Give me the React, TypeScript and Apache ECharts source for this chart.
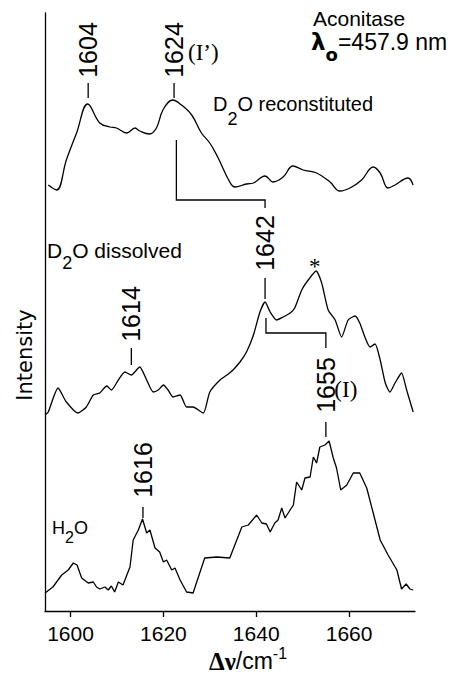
import React, { useEffect, useRef } from "react";
import * as echarts from "echarts";

// x-axis ticks (Raman shift, cm-1)
const xTicks = [1600, 1620, 1640, 1660];

// D2O reconstituted (top trace), intensity in arbitrary units incl. vertical offset
const reconWn = [1595.2, 1597.0, 1599.1, 1601.3, 1603.7, 1606.3, 1608.5, 1609.9, 1612.1, 1613.9, 1614.9, 1617.0, 1618.5, 1619.9, 1622.0, 1623.9, 1626.1, 1628.2, 1630.0, 1631.7, 1634.3, 1635.4, 1637.9, 1639.4, 1641.9, 1643.6, 1645.8, 1647.9, 1650.1, 1653.0, 1655.9, 1658.0, 1660.2, 1662.7, 1665.2, 1666.7, 1668.4, 1669.9, 1672.7, 1673.8];
const reconI = [426, 421, 451, 478, 507, 488, 484, 483, 478, 483, 480, 477, 483, 501, 511, 506, 496, 478, 468, 454, 429, 424, 427, 428, 435, 429, 434, 445, 441, 438, 429, 420, 423, 431, 444, 438, 423, 426, 433, 426];

// D2O dissolved (middle trace)
const dissWn = [1594.5, 1595.2, 1597.3, 1599.1, 1601.6, 1603.4, 1604.9, 1606.3, 1607.8, 1608.8, 1610.3, 1611.7, 1613.1, 1614.9, 1616.4, 1617.8, 1618.9, 1620.0, 1621.0, 1622.1, 1623.6, 1625.0, 1626.4, 1628.6, 1630.0, 1632.2, 1634.0, 1635.0, 1636.5, 1637.9, 1639.4, 1640.8, 1641.9, 1643.0, 1644.4, 1645.8, 1647.3, 1648.3, 1649.8, 1651.2, 1652.9, 1654.1, 1655.5, 1657.0, 1658.4, 1659.8, 1661.3, 1662.3, 1663.4, 1664.5, 1665.6, 1666.7, 1667.8, 1668.8, 1669.9, 1671.3, 1672.4, 1673.8];
const dissI = [196, 199, 223, 209, 198, 204, 216, 218, 225, 221, 231, 239, 236, 244, 231, 219, 221, 226, 221, 214, 216, 204, 204, 198, 219, 231, 237, 241, 249, 259, 276, 299, 309, 299, 291, 294, 298, 303, 321, 331, 340, 328, 301, 291, 274, 291, 295, 288, 274, 264, 267, 251, 228, 219, 228, 238, 221, 199];

// H2O (bottom trace)
const h2oWn = [1594.5, 1596.2, 1598.1, 1599.5, 1600.6, 1601.4, 1602.4, 1603.8, 1604.9, 1605.6, 1606.3, 1607.4, 1608.1, 1608.8, 1609.5, 1610.3, 1611.3, 1612.8, 1613.5, 1614.6, 1615.5, 1616.4, 1617.1, 1618.2, 1619.2, 1620.0, 1620.7, 1621.8, 1622.5, 1623.6, 1625.0, 1626.4, 1628.9, 1631.5, 1634.3, 1636.9, 1638.3, 1640.1, 1641.2, 1642.2, 1643.0, 1644.0, 1644.7, 1645.5, 1646.2, 1647.3, 1648.0, 1648.7, 1649.8, 1650.5, 1651.6, 1652.3, 1653.0, 1653.7, 1654.8, 1655.7, 1656.6, 1657.3, 1658.2, 1659.5, 1660.9, 1662.3, 1663.8, 1665.2, 1666.7, 1668.4, 1670.3, 1671.3, 1672.3, 1673.1, 1673.8];
const h2oI = [18, 24, 36, 41, 48, 46, 33, 28, 29, 24, 22, 24, 21, 25, 19, 29, 26, 44, 71, 81, 92, 78, 81, 63, 59, 49, 51, 41, 43, 31, 19, 18, 53, 54, 53, 84, 86, 96, 88, 87, 79, 88, 91, 103, 93, 101, 106, 129, 121, 133, 134, 154, 148, 164, 166, 170, 153, 143, 121, 126, 138, 138, 123, 98, 71, 56, 41, 22, 27, 22, 21];

// peak annotations
const peakLabels = ["1604", "1624", "1614", "1642", "1655", "1616"];
const peakX = [1603.8, 1622.3, 1613.1, 1641.9, 1655.0, 1615.6];
const peakLabelY = [561, 561, 297, 368, 226, 141];
const peakTickLow = [513, 513, 246, 312, 174, 93];
const peakTickHigh = [528, 528, 263, 333, 189, 104];

// correlation brackets 1624 -> 1642 and 1642 -> 1655
const bracketTop = [[1622.8, 471], [1622.8, 411], [1641.9, 411], [1641.9, 403]];
const bracketMid = [[1642.1, 293], [1642.1, 278], [1655.0, 278], [1655.0, 263]];

// band assignment marks
const markTexts = ["(I\u2019)", "(I)", "*"];
const markX = [1628.6, 1659.3, 1652.6];
const markY = [559, 222, 345];

const FONT = "Liberation Sans";

export default function App() {
  const ref = useRef<HTMLDivElement>(null);
  useEffect(() => {
    document.body.style.margin = "0";
    const chart = echarts.init(ref.current as HTMLDivElement, null, { renderer: "svg" });
    const pair = (w: number[], v: number[]) => w.map((x, i) => [x, v[i]]);
    const lineStyle = { color: "#000", width: 1.3 };
    const tickSegs = peakX.map((x, i) => ({ coords: [[x, peakTickLow[i]], [x, peakTickHigh[i]]] }));
    chart.setOption({
      animation: false,
      backgroundColor: "#fff",
      grid: { left: 45, right: 35, top: 13, bottom: 63, outerBoundsMode: "none" },
      xAxis: {
        type: "value",
        min: 1594.5,
        max: 1674.2,
        axisLine: { show: true, onZero: false, lineStyle: { color: "#000", width: 1.3 } },
        axisTick: { show: true, length: 6, inside: false, customValues: xTicks, lineStyle: { color: "#000", width: 1.3 } },
        axisLabel: {
          customValues: xTicks,
          formatter: (v: number) => String(v),
          fontSize: 21,
          color: "#000",
          fontFamily: FONT,
          margin: 12,
        },
        splitLine: { show: false },
      },
      yAxis: {
        type: "value",
        min: 0,
        max: 598,
        axisLine: { show: true, onZero: false, lineStyle: { color: "#000", width: 1.3 } },
        axisTick: { show: false },
        axisLabel: { show: false },
        splitLine: { show: false },
      },
      series: [
        { type: "line", data: pair(reconWn, reconI), showSymbol: false, smooth: 0.4, lineStyle },
        { type: "line", data: pair(dissWn, dissI), showSymbol: false, smooth: 0.2, lineStyle },
        { type: "line", data: pair(h2oWn, h2oI), showSymbol: false, smooth: false, lineStyle },
        {
          type: "lines",
          coordinateSystem: "cartesian2d",
          polyline: true,
          lineStyle: { color: "#000", width: 1.3, opacity: 1 },
          data: [...tickSegs, { coords: bracketTop }, { coords: bracketMid }],
        },
        {
          type: "scatter",
          symbolSize: 0.1,
          itemStyle: { color: "transparent" },
          data: peakX.map((x, i) => [x, peakLabelY[i], peakLabels[i]]),
          label: {
            show: true,
            position: "inside",
            rotate: 90,
            formatter: (p: any) => p.data[2],
            fontSize: 25,
            color: "#000",
            opacity: 1,
            textBorderWidth: 0,
            fontFamily: FONT,
          },
        },
        {
          type: "scatter",
          symbolSize: 0.1,
          itemStyle: { color: "transparent" },
          data: markX.map((x, i) => [x, markY[i], markTexts[i]]),
          label: {
            show: true,
            position: "inside",
            formatter: (p: any) => p.data[2],
            fontSize: 23,
            color: "#000",
            opacity: 1,
            textBorderWidth: 0,
            fontFamily: "Liberation Serif",
          },
        },
      ],
      graphic: [
        {
          type: "text",
          x: 313,
          y: 18,
          style: { text: "Aconitase", font: `21px "${FONT}"`, fill: "#000", textVerticalAlign: "middle" },
        },
        {
          type: "text",
          x: 311,
          y: 42,
          style: {
            text: "{l|\u03bb}{s|o}{t|=457.9 nm}",
            fill: "#000",
            textVerticalAlign: "middle",
            rich: {
              l: { fontSize: 23, fontWeight: "bold", fontFamily: "DejaVu Sans" },
              s: { fontSize: 18, fontWeight: "bold", fontFamily: "DejaVu Sans", padding: [24, 0, 0, 0] },
              t: { fontSize: 23, fontFamily: FONT },
            },
          },
        },
        {
          type: "text",
          x: 213,
          y: 104,
          style: {
            text: "{a|D}{s|2}{a|O reconstituted}",
            fill: "#000",
            textVerticalAlign: "middle",
            rich: {
              a: { fontSize: 20, fontFamily: FONT },
              s: { fontSize: 18, fontFamily: FONT, padding: [30, 0, 0, 0] },
            },
          },
        },
        {
          type: "text",
          x: 47,
          y: 250,
          style: {
            text: "{a|D}{s|2}{a|O dissolved}",
            fill: "#000",
            textVerticalAlign: "middle",
            rich: {
              a: { fontSize: 21, fontFamily: FONT },
              s: { fontSize: 18, fontFamily: FONT, padding: [26, 0, 0, 0] },
            },
          },
        },
        {
          type: "text",
          x: 52,
          y: 528,
          style: {
            text: "{a|H}{s|2}{a|O}",
            fill: "#000",
            textVerticalAlign: "middle",
            rich: {
              a: { fontSize: 18, fontFamily: FONT },
              s: { fontSize: 16, fontFamily: FONT, padding: [18, 0, 0, 0] },
            },
          },
        },
        {
          type: "text",
          x: 25,
          y: 355,
          rotation: Math.PI / 2,
          style: {
            text: "Intensity",
            font: `21px "DejaVu Sans"`,
            fill: "#000",
            textAlign: "center",
            textVerticalAlign: "middle",
          },
        },
        {
          type: "text",
          x: 248,
          y: 661,
          style: {
            text: "{g|\u0394\u03bd}{n|/cm}{p|-1}",
            fill: "#000",
            textAlign: "center",
            textVerticalAlign: "middle",
            rich: {
              g: { fontSize: 25, fontWeight: "bold", fontFamily: "Liberation Serif" },
              n: { fontSize: 23, fontFamily: FONT },
              p: { fontSize: 16, fontFamily: FONT, padding: [0, 0, 16, 0] },
            },
          },
        },
      ],
    });
    return () => chart.dispose();
  }, []);
  return <div ref={ref} style={{ width: 450, height: 674 }} />;
}
